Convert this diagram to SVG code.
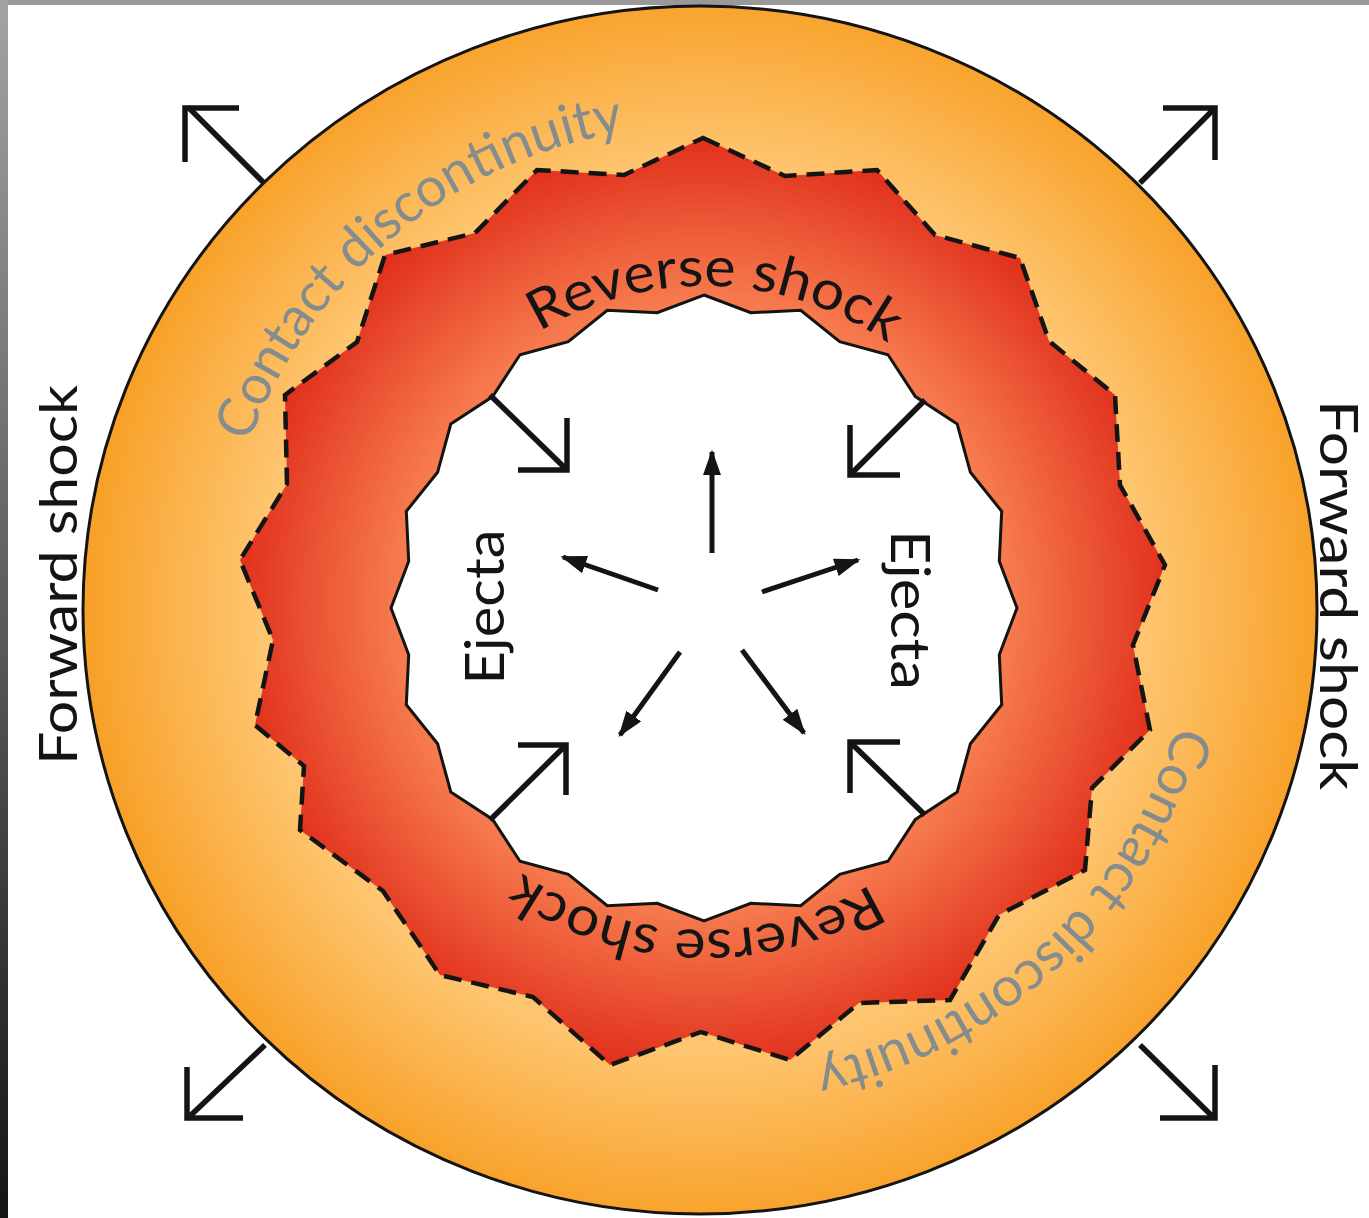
<svg xmlns="http://www.w3.org/2000/svg" width="1369" height="1218" viewBox="0 0 1369 1218">
<defs>
<linearGradient id="edge" x1="0" y1="0" x2="0" y2="1">
<stop offset="0" stop-color="#a3a3a3"/>
<stop offset="1" stop-color="#151515"/>
</linearGradient>
<radialGradient id="orange" gradientUnits="userSpaceOnUse" cx="703" cy="608" r="615">
<stop offset="0.72" stop-color="#fec570"/>
<stop offset="1" stop-color="#f8a129"/>
</radialGradient>
<radialGradient id="red" gradientUnits="userSpaceOnUse" cx="703" cy="605" r="465">
<stop offset="0.66" stop-color="#f67a4d"/>
<stop offset="1" stop-color="#e1311d"/>
</radialGradient>
<marker id="tri" viewBox="0 0 10 7" refX="9" refY="3.5" markerWidth="5.2" markerHeight="3.64" orient="auto">
<path d="M0,0 L10,3.5 L0,7 z" fill="#141414"/>
</marker>
<path id="arcCD1" d="M220,608 A483,483 0 0 1 703,125"/>
<path id="arcCD2" d="M1195,592 A483,483 0 0 1 712,1075"/>
<path id="arcRS" d="M383,608 A322,322 0 0 1 1027,608"/>
</defs>
<style>
.lbl{font-family:"Lato","Liberation Sans",sans-serif;font-size:55px;fill:#141414}
.fs{font-size:53px}
.gray{fill:#858c8e}
.chev{fill:none;stroke:#141414;stroke-width:5.5;stroke-linecap:butt;stroke-linejoin:miter}
.ray{fill:none;stroke:#141414;stroke-width:5;marker-end:url(#tri)}
</style>
<rect x="0" y="0" width="1369" height="1218" fill="#ffffff"/>
<rect x="0" y="0" width="1369" height="5" fill="#999999"/>
<rect x="0" y="0" width="8" height="1218" fill="url(#edge)"/>

<g id="forward-shock-shell">
<ellipse cx="700" cy="610" rx="617" ry="604" fill="url(#orange)" stroke="#141414" stroke-width="3"/>
</g>
<g id="contact-discontinuity">
<polygon fill="url(#red)" stroke="#141414" stroke-width="4.5" stroke-dasharray="18,10" points="703,138 785,176 877,170 935,235 1020,258 1049,341 1115,395 1120,485 1165,565 1133,645 1150,730 1092,788 1085,870 999,915 950,1000 859,1003 790,1060 701,1032 610,1065 533,997 440,975 383,891 300,830 304,766 255,725 273,640 240,560 287,484 285,395 357,342 385,255 475,233 537,170 624,175"/>
</g>
<g id="reverse-shock-ejecta">
<polygon fill="#ffffff" stroke="#141414" stroke-width="3" points="704,295 750.8,312.7 800.7,310.3 839.7,341.6 888,354.8 915.4,396.6 957.2,424 970.4,472.3 1001.7,511.3 999.3,561.2 1017,608 999.3,654.8 1001.7,704.7 970.4,743.7 957.2,792 915.4,819.4 888,861.2 839.7,874.4 800.7,905.7 750.8,903.3 704,921 657.2,903.3 607.3,905.7 568.3,874.4 520,861.2 492.6,819.4 450.8,792 437.6,743.7 406.3,704.7 408.7,654.8 391,608 408.7,561.2 406.3,511.3 437.6,472.3 450.8,424 492.6,396.6 520,354.8 568.3,341.6 607.3,310.3 657.2,312.7"/>
</g>

<g id="connectors">
<path class="chev" d="M264,183 L188,107"/>
<path class="chev" d="M239,108 L185,108 L185,162"/>
<path class="chev" d="M1140,183 L1213,110"/>
<path class="chev" d="M1163,108 L1215,108 L1215,160"/>
<path class="chev" d="M265,1045 L190,1116"/>
<path class="chev" d="M187,1067 L187,1118 L243,1118"/>
<path class="chev" d="M1140,1045 L1212,1116"/>
<path class="chev" d="M1215,1065 L1215,1118 L1160,1118"/>
<path class="chev" d="M490,395 L565,468"/>
<path class="chev" d="M567,418 L567,470 L518,470"/>
<path class="chev" d="M925,400 L852,473"/>
<path class="chev" d="M850,425 L850,475 L900,475"/>
<path class="chev" d="M490,820 L564,747"/>
<path class="chev" d="M518,745 L566,745 L566,795"/>
<path class="chev" d="M925,815 L852,744"/>
<path class="chev" d="M900,742 L850,742 L850,793"/>
<path class="ray" d="M712,553 L712,452"/>
<path class="ray" d="M658,590 L563,557"/>
<path class="ray" d="M762,592 L858,560"/>
<path class="ray" d="M680,652 L620,735"/>
<path class="ray" d="M742,650 L804,733"/>
</g>

<g id="labels">
<text class="lbl fs" x="77" y="575" text-anchor="middle" textLength="380" lengthAdjust="spacingAndGlyphs" transform="rotate(-90 77 575)">Forward shock</text>
<text class="lbl fs" x="1320" y="595" text-anchor="middle" textLength="390" lengthAdjust="spacingAndGlyphs" transform="rotate(90 1320 595)">Forward shock</text>
<text class="lbl" x="504" y="607" text-anchor="middle" textLength="155" lengthAdjust="spacingAndGlyphs" transform="rotate(-90 504 607)">Ejecta</text>
<text class="lbl" x="891" y="610" text-anchor="middle" textLength="160" lengthAdjust="spacingAndGlyphs" transform="rotate(90 891 610)">Ejecta</text>
<text class="lbl gray"><textPath href="#arcCD1" startOffset="424" text-anchor="middle" textLength="511" lengthAdjust="spacingAndGlyphs">Contact discontinuity</textPath></text>
<text class="lbl gray"><textPath href="#arcCD2" startOffset="395" text-anchor="middle" textLength="520" lengthAdjust="spacingAndGlyphs">Contact discontinuity</textPath></text>
<text class="lbl"><textPath href="#arcRS" startOffset="516" text-anchor="middle" textLength="369" lengthAdjust="spacingAndGlyphs">Reverse shock</textPath></text>
<g transform="rotate(180 705 608)"><text class="lbl"><textPath href="#arcRS" startOffset="516" text-anchor="middle" textLength="369" lengthAdjust="spacingAndGlyphs">Reverse shock</textPath></text></g>
</g>
</svg>
